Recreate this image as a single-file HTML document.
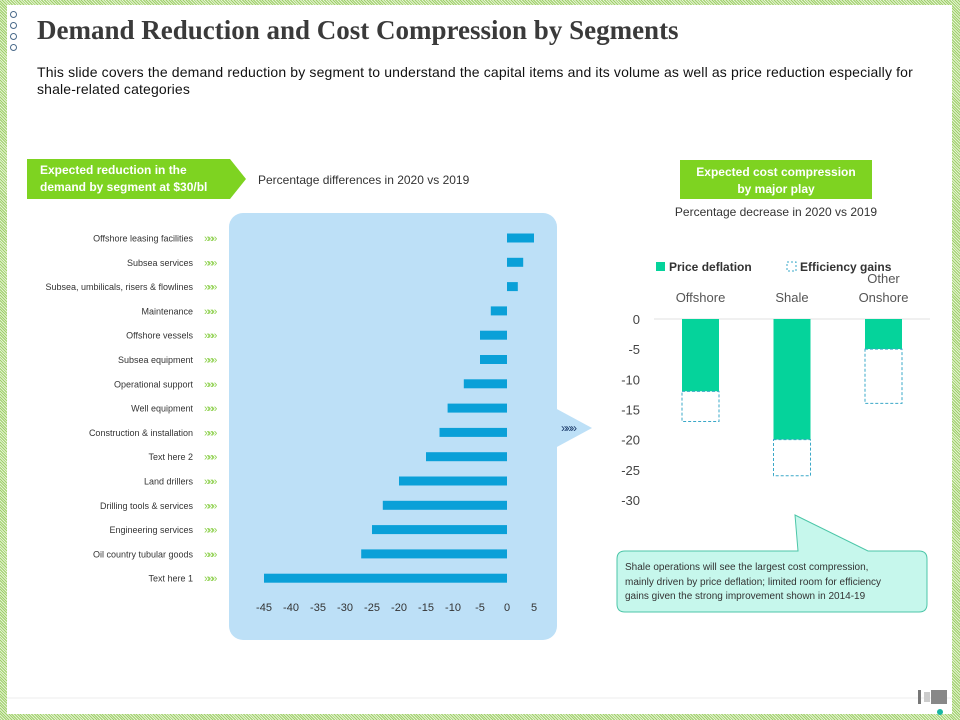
<!DOCTYPE html>
<html><head><meta charset="utf-8"><style>
body{margin:0;width:960px;height:720px;overflow:hidden;font-family:"Liberation Sans",sans-serif;}
#page{position:relative;width:960px;height:720px;background:repeating-linear-gradient(45deg,#9fcf6a 0 1px,#e4f3d2 1px 2px);}
#inner{position:absolute;left:7px;top:5px;right:8px;bottom:6px;background:#fff;}
.abs{position:absolute;}
</style></head><body>
<div id="page">
<div id="inner"></div>
<div class="abs" style="left:10px;top:11px;">
 <div style="width:5px;height:5px;border:1px solid #4a6a8a;border-radius:50%;margin-bottom:4px"></div>
 <div style="width:5px;height:5px;border:1px solid #4a6a8a;border-radius:50%;margin-bottom:4px"></div>
 <div style="width:5px;height:5px;border:1px solid #4a6a8a;border-radius:50%;margin-bottom:4px"></div>
 <div style="width:5px;height:5px;border:1px solid #4a6a8a;border-radius:50%"></div>
</div>
<div class="abs" style="left:37px;top:15px;font-family:'Liberation Serif',serif;font-weight:bold;font-size:27px;color:#3a3a3a;letter-spacing:0px">Demand Reduction and Cost Compression by Segments</div>
<div class="abs" style="left:37px;top:64px;width:915px;font-size:14px;letter-spacing:0.15px;line-height:17px;color:#111;white-space:nowrap">This slide covers the demand reduction by segment to understand the capital items and its volume as well as price reduction especially for<br>shale-related categories</div>

<svg class="abs" style="left:0;top:0" width="960" height="720">
 <polygon points="27,159 230,159 246,179 230,199 27,199" fill="#7ed321"/>
 <text x="40" y="174" font-size="12" font-weight="bold" fill="#fff">Expected reduction in the</text>
 <text x="40" y="191" font-size="12" font-weight="bold" fill="#fff">demand by segment at $30/bl</text>
 <text x="258" y="184" font-size="12" fill="#333">Percentage differences in 2020 vs 2019</text>
 <rect x="229" y="213" width="328" height="427" rx="14" fill="#bde0f7"/>
 <polygon points="555,408 592,428 555,448" fill="#bde0f7"/>
 <text x="561" y="432" font-size="12" fill="#1a3a6a" letter-spacing="-2">»»»</text>
 <g id="left"></g>
 <rect x="680" y="160" width="192" height="39" fill="#7ed321"/>
 <text x="776" y="176" font-size="12" font-weight="bold" fill="#fff" text-anchor="middle">Expected cost compression</text>
 <text x="776" y="193" font-size="12" font-weight="bold" fill="#fff" text-anchor="middle">by major play</text>
 <text x="776" y="216" font-size="12" fill="#333" text-anchor="middle">Percentage decrease in 2020 vs 2019</text>
 <rect x="656" y="262" width="9" height="9" fill="#05d39b"/>
 <text x="669" y="271" font-size="12" font-weight="bold" fill="#333">Price deflation</text>
 <rect x="787" y="262" width="9" height="9" fill="none" stroke="#3aa8c8" stroke-dasharray="2,2"/>
 <text x="800" y="271" font-size="12" font-weight="bold" fill="#333">Efficiency gains</text>
 <g id="right"></g>
 <path d="M625,551 L798,551 L795,515 L868,551 L919,551 Q927,551 927,559 L927,604 Q927,612 919,612 L625,612 Q617,612 617,604 L617,559 Q617,551 625,551 Z" fill="#c6f7ec" stroke="#4cc6a8"/>
 <text font-size="10" fill="#333">
  <tspan x="625" y="570">Shale operations will see the largest cost compression,</tspan>
  <tspan x="625" y="585">mainly driven by price deflation; limited room for efficiency</tspan>
  <tspan x="625" y="599">gains given the strong improvement shown in 2014-19</tspan>
 </text>
 <line x1="7" y1="698" x2="952" y2="698" stroke="#eee"/>
 <rect x="918" y="690" width="3" height="14" fill="#777"/>
 <rect x="924" y="692" width="6" height="10" fill="#ccc"/>
 <rect x="931" y="690" width="16" height="14" fill="#888"/>
 <circle cx="940" cy="712" r="3" fill="#19b6a0"/>
</svg>
</div>
<script>
const categories=["Offshore leasing facilities","Subsea services","Subsea, umbilicals, risers & flowlines","Maintenance","Offshore vessels","Subsea equipment","Operational support","Well equipment","Construction & installation","Text here 2","Land drillers","Drilling tools & services","Engineering services","Oil country tubular goods","Text here 1"];
const values=[5,3,2,-3,-5,-5,-8,-11,-12.5,-15,-20,-23,-25,-27,-45];
const xTicks=[-45,-40,-35,-30,-25,-20,-15,-10,-5,0,5];
const plays=["Offshore","Shale","Other Onshore"];
const priceDeflation=[-12,-20,-5];
const efficiencyGains=[-5,-6,-9];
const yTicks=[0,-5,-10,-15,-20,-25,-30];
const NS="http://www.w3.org/2000/svg";
function mk(p,tag,a){const e=document.createElementNS(NS,tag);for(const k in a)e.setAttribute(k,a[k]);p.appendChild(e);return e;}
const L=document.getElementById('left');
const xs=v=>507+v*5.4, ry=i=>238+i*24.3;
categories.forEach((c,i)=>{
 const t=mk(L,'text',{x:193,y:ry(i)+3.5,'font-size':9,'text-anchor':'end',fill:'#333'});t.textContent=c;
 
 
 const ch=mk(L,'text',{x:204,y:ry(i)+4,'font-size':11,fill:'#8fd14f','letter-spacing':'-2.5'});ch.textContent='»»»';
 
 
 const v=values[i];
 const b=mk(L,'rect',{x:Math.min(xs(0),xs(v)),y:ry(i)-4.5,width:Math.abs(xs(v)-xs(0)),height:9,fill:'#0aa0d8'});
 
 
});
xTicks.forEach(v=>{const t=mk(L,'text',{x:xs(v),y:611,'font-size':11,'text-anchor':'middle',fill:'#333'});t.textContent=v;
 
 });
const R=document.getElementById('right');
const yv=v=>319-v*6.03, cx=i=>700.5+i*91.5;
const gl=mk(R,'line',{x1:654,x2:930,y1:yv(0),y2:yv(0),stroke:'#e0e0e0'});


yTicks.forEach(v=>{const t=mk(R,'text',{x:640,y:yv(v)+5,'font-size':13,'text-anchor':'end',fill:'#444'});t.textContent=v;
 
 });
plays.forEach((p,i)=>{
 const words=p.split(' ');
 words.forEach((w,j)=>{const t=mk(R,'text',{x:cx(i),y:302-(words.length-1-j)*19,'font-size':13,'text-anchor':'middle',fill:'#555'});t.textContent=w;
  
  });
 const pd=priceDeflation[i], eg=efficiencyGains[i];
 const b=mk(R,'rect',{x:cx(i)-18.5,y:yv(0),width:37,height:yv(pd)-yv(0),fill:'#05d39b'});
 
 
 const e=mk(R,'rect',{x:cx(i)-18.5,y:yv(pd),width:37,height:yv(pd+eg)-yv(pd),fill:'#fff',stroke:'#3aa8c8','stroke-dasharray':'3,2'});
 
 
});
</script>
</body></html>
